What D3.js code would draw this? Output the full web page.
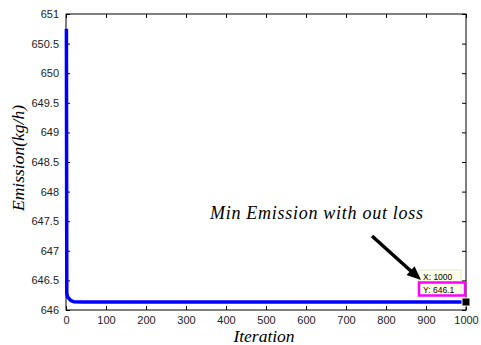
<!DOCTYPE html>
<html>
<head>
<meta charset="utf-8">
<script src="https://cdn.jsdelivr.net/npm/d3@7"></script>
<style>
  body { margin: 0; background: #fff; }
  svg { display: block; }
</style>
</head>
<body>
<div id="chart"></div>
<script>
// convergence curve (iteration, emission)
const iterations = [1, 2, 4, 8, 12, 20, 40, 100, 1000];
const emission = [650.75, 646.28, 646.22, 646.19, 646.16, 646.14, 646.135, 646.135, 646.135];
const xTicks = [0, 100, 200, 300, 400, 500, 600, 700, 800, 900, 1000];
const yTicks = [646, 646.5, 647, 647.5, 648, 648.5, 649, 649.5, 650, 650.5, 651];
const marker = { x: 1000, y: 646.1 };

const width = 481, height = 345;
const svg = d3.select('#chart').append('svg')
    .attr('width', width)
    .attr('height', height);

const x = d3.scaleLinear().domain([0, 1000]).range([66, 466]);
const y = d3.scaleLinear().domain([646, 651]).range([310, 14]);

const tickFont = 'Arial, "Liberation Sans", sans-serif';
const serif = '"Liberation Serif", "Times New Roman", serif';

// frame
svg.append('rect')
    .attr('x', x(0)).attr('y', y(651))
    .attr('width', x(1000) - x(0)).attr('height', y(646) - y(651))
    .attr('fill', 'none').attr('stroke', '#000').attr('stroke-width', 1);

// ticks on all four sides, pointing inward
const axBottom = svg.append('g').attr('transform', `translate(0,${y(646)})`)
    .call(d3.axisBottom(x).tickValues(xTicks).tickSizeInner(-4).tickSizeOuter(0).tickPadding(6).tickFormat(d3.format('d')));
const axTop = svg.append('g').attr('transform', `translate(0,${y(651)})`)
    .call(d3.axisTop(x).tickValues(xTicks).tickSizeInner(-4).tickSizeOuter(0).tickFormat(''));
const axLeft = svg.append('g').attr('transform', `translate(${x(0)},0)`)
    .call(d3.axisLeft(y).tickValues(yTicks).tickSizeInner(-4).tickSizeOuter(0).tickPadding(7).tickFormat(d3.format('')));
const axRight = svg.append('g').attr('transform', `translate(${x(1000)},0)`)
    .call(d3.axisRight(y).tickValues(yTicks).tickSizeInner(-4).tickSizeOuter(0).tickFormat(''));

[axBottom, axTop, axLeft, axRight].forEach(g => {
    g.select('.domain').remove();
    g.selectAll('text').attr('font-family', tickFont).attr('font-size', 11).attr('fill', '#222');
});

// curve
const pts = iterations.map((d, i) => [d, emission[i]]);
svg.append('path')
    .datum(pts)
    .attr('fill', 'none')
    .attr('stroke', '#0000ff')
    .attr('stroke-width', 3.5)
    .attr('d', d3.line().x(d => x(d[0])).y(d => y(d[1])));

// data tip
const mx = x(marker.x), my = y(646.135);
svg.append('rect')
    .attr('x', mx - 4).attr('y', my - 4).attr('width', 8).attr('height', 8)
    .attr('fill', '#000').attr('stroke', '#ffffe0').attr('stroke-width', 1);
svg.append('rect')
    .attr('x', 419).attr('y', 270).attr('width', 42).attr('height', 26)
    .attr('fill', '#ffffe6').attr('stroke', '#ddd').attr('stroke-width', 0.8);
svg.append('text')
    .attr('x', 423).attr('y', 280)
    .attr('font-family', tickFont).attr('font-size', 8.5)
    .text(`X: ${marker.x}`);
svg.append('rect')
    .attr('x', 419).attr('y', 282.5).attr('width', 46).attr('height', 13)
    .attr('fill', 'none').attr('stroke', '#ff00ff').attr('stroke-width', 2.5);
svg.append('text')
    .attr('x', 423).attr('y', 292.5)
    .attr('font-family', tickFont).attr('font-size', 8.5)
    .text(`Y: ${marker.y}`);

// annotation arrow
svg.append('line')
    .attr('x1', 372).attr('y1', 236).attr('x2', 412).attr('y2', 272)
    .attr('stroke', '#000').attr('stroke-width', 3.5);
svg.append('path')
    .attr('transform', `translate(421,280) rotate(${Math.atan2(44, 49) * 180 / Math.PI})`)
    .attr('d', 'M0,0 L-14,-6 L-14,6 Z')
    .attr('fill', '#000');

svg.append('text')
    .attr('x', 210).attr('y', 219)
    .attr('font-family', serif).attr('font-style', 'italic').attr('font-size', 18)
    .attr('textLength', 213).attr('lengthAdjust', 'spacing')
    .text('Min Emission with out loss');

// axis titles
svg.append('text')
    .attr('x', 264).attr('y', 342)
    .attr('text-anchor', 'middle')
    .attr('font-family', serif).attr('font-style', 'italic').attr('font-size', 17.5)
    .text('Iteration');
svg.append('text')
    .attr('transform', `translate(24,158) rotate(-90)`)
    .attr('text-anchor', 'middle')
    .attr('font-family', serif).attr('font-style', 'italic').attr('font-size', 17.5)
    .text('Emission(kg/h)');
</script>
</body>
</html>
